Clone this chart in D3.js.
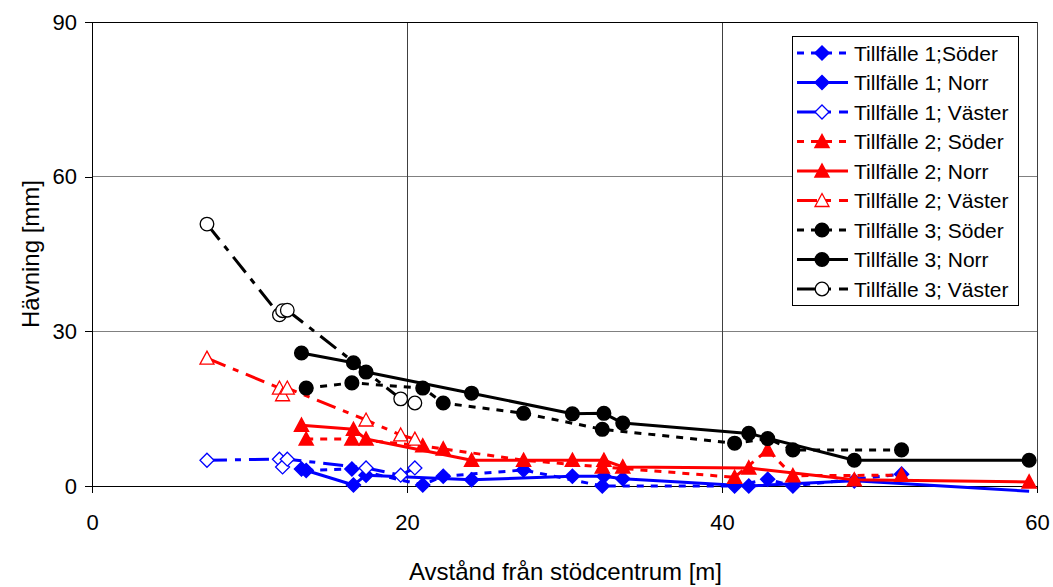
<!DOCTYPE html>
<html>
<head>
<meta charset="utf-8">
<script src="https://cdn.jsdelivr.net/npm/d3@7"></script>
<style>
  html, body { margin: 0; padding: 0; background: #fff; }
  svg { display: block; font-family: "Liberation Sans", Arial, sans-serif; }
</style>
</head>
<body>
<svg id="chart" width="1053" height="587"></svg>
<script>
// Measurement distances (m) per direction
const norrX    = [13.3, 16.6, 17.4, 24.1, 30.5, 32.5, 33.7, 41.7, 48.4, 59.5];
const soderX   = [13.6, 16.5, 21.0, 22.3, 27.4, 32.4, 40.8, 42.9, 44.5, 51.4];
const vasterX  = [7.3, 11.9, 12.1, 12.4, 17.4, 19.6, 20.5];
const vaster3X = [7.3, 11.9, 12.1, 12.4, 19.6, 20.5];

// Heave (mm) per occasion and direction
const t1Soder  = [3.0, 3.3, 0.2, 1.9, 3.1, 0.0, 0.0, 1.3, 0.0, 2.3];
const t1Norr   = [3.3, 0.2, 2.1, 1.2, 1.9, 1.9, 1.4, 0.0, 1.0, -1.0];
const t1Vaster = [5.0, 5.2, 3.7, 5.2, 3.5, 2.1, 3.5];
const t2Soder  = [9.1, 9.1, 7.8, 7.2, 5.0, 3.7, 1.7, 7.0, 2.0, 2.1];
const t2Norr   = [11.8, 11.0, 9.1, 5.0, 5.0, 5.0, 3.7, 3.5, 1.2, 0.8];
const t2Vaster = [24.8, 19.0, 17.7, 19.0, 12.8, 9.9, 9.1];
const t3Soder  = [19.0, 20.0, 19.0, 16.1, 14.1, 11.0, 8.3, 9.2, 7.0, 7.0];
const t3Norr   = [25.8, 23.9, 22.1, 18.0, 14.0, 14.1, 12.2, 10.2, 5.0, 5.0];
const t3Vaster = [50.8, 33.2, 34.0, 34.1, 16.9, 16.1];

const xTicks = [0, 20, 40, 60];
const yTicks = [0, 30, 60, 90];

const seriesNames = [
  "Tillfälle 1;Söder", "Tillfälle 1; Norr", "Tillfälle 1; Väster",
  "Tillfälle 2; Söder", "Tillfälle 2; Norr", "Tillfälle 2; Väster",
  "Tillfälle 3; Söder", "Tillfälle 3; Norr", "Tillfälle 3; Väster"
];

const BLUE = "#0000ff", RED = "#ff0000", BLACK = "#000000";
const DASH = "7,7";
const DASHDOT = "20,8,6,8";

const series = [
  { name: seriesNames[0], xs: soderX,   ys: t1Soder,  color: BLUE,  dash: DASH,    marker: "diamond",  filled: true },
  { name: seriesNames[1], xs: norrX,    ys: t1Norr,   color: BLUE,  dash: null,    marker: "diamond",  filled: true },
  { name: seriesNames[2], xs: vasterX,  ys: t1Vaster, color: BLUE,  dash: DASHDOT, marker: "diamond",  filled: false },
  { name: seriesNames[3], xs: soderX,   ys: t2Soder,  color: RED,   dash: DASH,    marker: "triangle", filled: true },
  { name: seriesNames[4], xs: norrX,    ys: t2Norr,   color: RED,   dash: null,    marker: "triangle", filled: true },
  { name: seriesNames[5], xs: vasterX,  ys: t2Vaster, color: RED,   dash: DASHDOT, marker: "triangle", filled: false },
  { name: seriesNames[6], xs: soderX,   ys: t3Soder,  color: BLACK, dash: DASH,    marker: "circle",   filled: true },
  { name: seriesNames[7], xs: norrX,    ys: t3Norr,   color: BLACK, dash: null,    marker: "circle",   filled: true },
  { name: seriesNames[8], xs: vaster3X, ys: t3Vaster, color: BLACK, dash: DASHDOT, marker: "circle",   filled: false }
];

const W = 1053, H = 587;
const margin = { left: 92, right: 16, top: 22, bottom: 101 };
const x = d3.scaleLinear().domain([0, 60]).range([margin.left, W - margin.right]);
const y = d3.scaleLinear().domain([0, 90]).range([H - margin.bottom, margin.top]);

const svg = d3.select("#chart");
const FONT = "'Liberation Sans', Arial, sans-serif";

// grid
svg.append("g").selectAll("line").data(yTicks.filter(d => d > 0 && d < 90)).join("line")
  .attr("x1", x(0)).attr("x2", x(60)).attr("y1", d => y(d)).attr("y2", d => y(d))
  .attr("stroke", "#808080").attr("stroke-width", 1).attr("shape-rendering", "crispEdges");
svg.append("g").selectAll("line").data(xTicks.filter(d => d > 0 && d < 60)).join("line")
  .attr("x1", d => x(d)).attr("x2", d => x(d)).attr("y1", y(0)).attr("y2", y(90))
  .attr("stroke", "#404040").attr("stroke-width", 1).attr("shape-rendering", "crispEdges");

// frame top / right
svg.append("line").attr("x1", x(0)).attr("x2", x(60)).attr("y1", y(90)).attr("y2", y(90))
  .attr("stroke", "#000").attr("shape-rendering", "crispEdges");
svg.append("line").attr("x1", x(60)).attr("x2", x(60)).attr("y1", y(0)).attr("y2", y(90))
  .attr("stroke", "#404040").attr("shape-rendering", "crispEdges");

// axes
const xAxis = d3.axisBottom(x).tickValues(xTicks).tickSize(7).tickPadding(21).tickFormat(d3.format("d"));
const yAxis = d3.axisLeft(y).tickValues(yTicks).tickSize(7).tickPadding(8).tickFormat(d3.format("d"));
const gx = svg.append("g").attr("transform", `translate(0,${y(0)})`).call(xAxis);
const gy = svg.append("g").attr("transform", `translate(${x(0)},0)`).call(yAxis);
[gx, gy].forEach(g => {
  g.select(".domain").attr("stroke", "#000").attr("shape-rendering", "crispEdges");
  g.selectAll(".tick line").attr("stroke", "#000").attr("shape-rendering", "crispEdges");
  g.selectAll(".tick text").attr("fill", "#000").attr("font-size", 22).attr("font-family", FONT);
});

// axis titles
svg.append("text").attr("x", (x(0) + x(60)) / 2 + 1).attr("y", 580)
  .attr("text-anchor", "middle").attr("font-size", 24).text("Avstånd från stödcentrum [m]");
svg.append("text").attr("transform", `translate(39,${(y(0) + y(90)) / 2}) rotate(-90)`)
  .attr("text-anchor", "middle").attr("font-size", 24).text("Hävning [mm]");

// marker shapes
function markerPath(type) {
  if (type === "diamond") return "M0,-7L7,0L0,7L-7,0Z";
  if (type === "triangle") return "M0,-7L7,6L-7,6Z";
  return d3.arc()({ innerRadius: 0, outerRadius: 6.8, startAngle: 0, endAngle: 2 * Math.PI });
}
function drawMarker(g, type, filled, color, cx, cy) {
  g.append("path").attr("d", markerPath(type))
    .attr("transform", `translate(${cx},${cy})`)
    .attr("stroke", color).attr("stroke-width", filled ? 1.5 : 1.3)
    .attr("fill", filled ? color : "#fff");
}

const line = d3.line().x(d => x(d[0])).y(d => y(d[1]));

const plot = svg.append("g");
series.forEach(s => {
  const pts = s.xs.map((v, i) => [v, s.ys[i]]);
  const path = plot.append("path").datum(pts).attr("d", line)
    .attr("fill", "none").attr("stroke", s.color).attr("stroke-width", 3)
    .attr("stroke-linejoin", "round");
  if (s.dash) path.attr("stroke-dasharray", s.dash);
  const mg = plot.append("g");
  pts.filter(p => p[1] >= 0 && p[1] <= 90)
    .forEach(p => drawMarker(mg, s.marker, s.filled, s.color, x(p[0]), y(p[1])));
});

// legend
const lg = svg.append("g");
lg.append("rect").attr("x", 792.5).attr("y", 36.5).attr("width", 226).attr("height", 269)
  .attr("fill", "#fff").attr("stroke", "#000").attr("stroke-width", 1);
series.forEach((s, i) => {
  const cy = 53 + i * 29.5;
  const l = lg.append("line").attr("x1", 797).attr("x2", 848).attr("y1", cy).attr("y2", cy)
    .attr("stroke", s.color).attr("stroke-width", 3);
  if (s.dash) l.attr("stroke-dasharray", s.dash);
  drawMarker(lg, s.marker, s.filled, s.color, 822, cy);
  lg.append("text").attr("x", 854).attr("y", cy + 7.5).attr("font-size", 21)
    .attr("fill", "#000").text(s.name);
});
</script>
</body>
</html>
